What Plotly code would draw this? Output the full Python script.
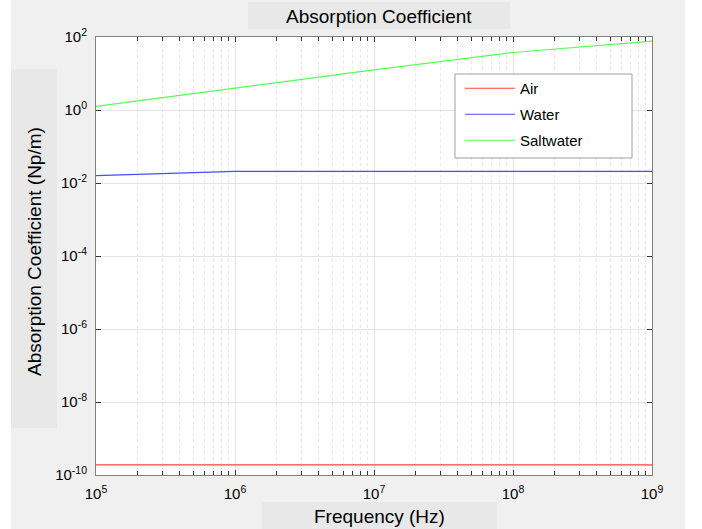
import plotly.graph_objects as go

# ---- data ----
freq_hz = [1e5, 1e6, 1e7, 1e8, 1e9]
air = [1.885e-10, 1.885e-10, 1.885e-10, 1.885e-10, 1.885e-10]
water = [0.0160, 0.0208, 0.0209, 0.0209, 0.0209]
saltwater = [1.257, 3.97, 12.5, 37.6, 77.5]
series_names = ["Air", "Water", "Saltwater"]

x_tick_vals = [1e5, 1e6, 1e7, 1e8, 1e9]
x_tick_text = ["10<sup>5</sup>", "10<sup>6</sup>", "10<sup>7</sup>", "10<sup>8</sup>", "10<sup>9</sup>"]
y_tick_vals = [1e2, 1e0, 1e-2, 1e-4, 1e-6, 1e-8, 1e-10]
y_tick_text = ["10<sup>2</sup>", "10<sup>0</sup>", "10<sup>-2</sup>", "10<sup>-4</sup>",
               "10<sup>-6</sup>", "10<sup>-8</sup>", "10<sup>-10</sup>"]

title_text = "Absorption Coefficient"
x_label = "Frequency (Hz)"
y_label = "Absorption Coefficient (Np/m)"

# ---- layout geometry (page pixels; body margin removed by post_script) ----
W, H = 702, 529
PL, PR, PT, PB = 96, 652, 37, 475


def px(x):
    """page x (pixels) -> paper fraction"""
    return (x - PL) / (PR - PL)


def py(y):
    """page y (pixels) -> paper fraction"""
    return (PB - y) / (PB - PT)


FONT = "Liberation Sans, Arial, Helvetica, sans-serif"
colors = ["#ff4040", "#4b4bff", "#55ff55"]

fig = go.Figure()
for i, (name, vals) in enumerate(zip(series_names, [air, water, saltwater])):
    fig.add_trace(go.Scatter(
        x=freq_hz, y=vals, mode="lines", name=name,
        line=dict(color=colors[i], width=1.2),
        legendgroup=name,
    ))

shapes = []
# white strips outside the grey figure area
shapes.append(dict(type="rect", xref="paper", yref="paper", layer="below",
                   x0=px(-2), x1=px(11), y0=py(540), y1=py(-2),
                   fillcolor="white", line=dict(width=0)))
shapes.append(dict(type="rect", xref="paper", yref="paper", layer="below",
                   x0=px(685), x1=px(720), y0=py(540), y1=py(-2),
                   fillcolor="white", line=dict(width=0)))
# label boxes
box_col = "#e8e8e8"
shapes.append(dict(type="rect", xref="paper", yref="paper", layer="below",
                   x0=px(248), x1=px(510), y0=py(29), y1=py(2),
                   fillcolor=box_col, line=dict(width=0)))
shapes.append(dict(type="rect", xref="paper", yref="paper", layer="below",
                   x0=px(262), x1=px(497), y0=py(535), y1=py(502),
                   fillcolor=box_col, line=dict(width=0)))
shapes.append(dict(type="rect", xref="paper", yref="paper", layer="below",
                   x0=px(11), x1=px(57), y0=py(428), y1=py(69),
                   fillcolor=box_col, line=dict(width=0)))
# legend frame (opaque white box with grey border)
shapes.append(dict(type="rect", xref="paper", yref="paper", layer="above",
                   x0=px(455), x1=px(632), y0=py(158), y1=py(74),
                   fillcolor="white", line=dict(color="#a0a0a0", width=1)))

annotations = [
    dict(text=title_text, xref="paper", yref="paper", x=px(379), y=py(16),
         xanchor="center", yanchor="middle", showarrow=False,
         font=dict(family=FONT, size=19, color="black")),
    dict(text=x_label, xref="paper", yref="paper", x=px(379), y=py(516),
         xanchor="center", yanchor="middle", showarrow=False,
         font=dict(family=FONT, size=19, color="black")),
    dict(text=y_label, xref="paper", yref="paper", x=px(34), y=py(252),
         xanchor="center", yanchor="middle", showarrow=False, textangle=-90,
         font=dict(family=FONT, size=19, color="black")),
]

axis_common = dict(
    showline=True, linecolor="#7f7f7f", linewidth=1, mirror="ticks",
    ticks="inside", ticklen=5, tickcolor="#333333", tickwidth=1,
    showgrid=True, gridcolor="#e4e4e4", gridwidth=1,
    zeroline=False,
    tickfont=dict(family=FONT, size=15, color="black"),
    ticklabelstandoff=5,
)

fig.update_layout(
    width=W, height=H,
    margin=dict(l=PL, r=W - PR, t=PT, b=H - PB, pad=0),
    paper_bgcolor="#f0f0f0", plot_bgcolor="white",
    font=dict(family=FONT, color="black"),
    shapes=shapes, annotations=annotations,
    showlegend=True,
    legend=dict(x=px(460), y=py(72), xanchor="left", yanchor="top",
                bgcolor="rgba(0,0,0,0)", borderwidth=0,
                font=dict(family=FONT, size=15, color="black"),
                tracegroupgap=3.5, itemwidth=50),
    xaxis=dict(type="log", range=[5, 9], tickmode="array",
               tickvals=x_tick_vals, ticktext=x_tick_text,
               minor=dict(dtick="D1", ticks="inside", ticklen=4, tickcolor="#333333",
                          showgrid=True, gridcolor="#e8e8e8", griddash="dot"),
               **axis_common),
    yaxis=dict(type="log", range=[-10, 2], tickmode="array",
               tickvals=y_tick_vals, ticktext=y_tick_text,
               **axis_common),
)

fig.write_html("out.html",
               config={"displayModeBar": False},
               post_script="document.body.style.margin='0';document.body.style.background='white';")
